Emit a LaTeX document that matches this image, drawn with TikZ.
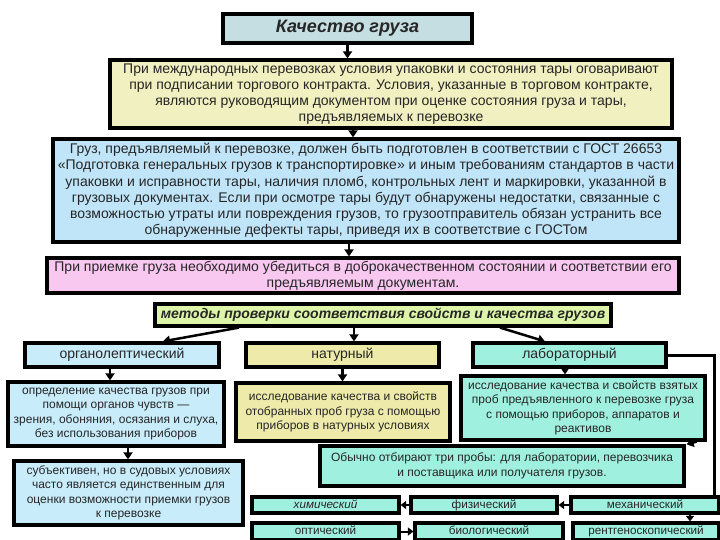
\documentclass[tikz,border=0pt]{standalone}
\usepackage{fontspec}
\setmainfont{Liberation Sans}
\usetikzlibrary{arrows.meta}
\definecolor{ctitle}{HTML}{C5DEE2}
\definecolor{cyel}{HTML}{F0F0C0}
\definecolor{cblue}{HTML}{C0E4F8}
\definecolor{cpink}{HTML}{F8C8F0}
\definecolor{cmeth}{HTML}{DDF5A8}
\definecolor{corg}{HTML}{C8ECFA}
\definecolor{cnat}{HTML}{EEEBAA}
\definecolor{clab}{HTML}{A0F0E0}
\tikzset{
  box/.style={draw=black, line width=3.2pt, align=center, inner sep=0pt, text=black!85},
  big/.style={font=\fontsize{14}{16.2}\selectfont},
  mid/.style={font=\fontsize{12}{14.5}\selectfont},
  small/.style={font=\fontsize{11.7}{13}\selectfont, text height=8.5pt, text depth=2pt},
  arr/.style={line width=2.5pt, -{Triangle[length=7pt,width=9pt]}},
  sarr/.style={line width=2pt, -{Triangle[length=5.5pt,width=8pt]}},
  lnk/.style={line width=3pt}
}
\begin{document}
\begin{tikzpicture}[x=1pt,y=-1pt]
\useasboundingbox (0,0) rectangle (720,540);
\fill[white] (0,0) rectangle (720,540);
\node[box, fill=ctitle, minimum width=249pt, minimum height=29pt, font=\fontsize{18}{20}\selectfont\bfseries\itshape] (title) at (347.5,28.5) {Качество груза};
\node[box, big, fill=cyel, minimum width=562pt, minimum height=68pt] (yel) at (391,94) {При международных перевозках условия упаковки и состояния тары оговаривают\\при подписании торгового контракта. Условия, указанные в торговом контракте,\\являются руководящим документом при оценке состояния груза и тары,\\предъявляемых к перевозке};
\node[box, big, fill=cblue, minimum width=626pt, minimum height=103pt] (blue) at (366,190.5) {Груз, предъявляемый к перевозке, должен быть подготовлен в соответствии с ГОСТ 26653\\«Подготовка генеральных грузов к транспортировке» и иным требованиям стандартов в части\\упаковки и исправности тары, наличия пломб, контрольных лент и маркировки, указанной в\\грузовых документах. Если при осмотре тары будут обнаружены недостатки, связанные с\\возможностью утраты или повреждения грузов, то грузоотправитель обязан устранить все\\обнаруженные дефекты тары, приведя их в соответствие с ГОСТом};
\node[box, big, fill=cpink, minimum width=632pt, minimum height=35pt] (pink) at (363,275.5) {При приемке груза необходимо убедиться в доброкачественном состоянии и соответствии его\\предъявляемым документам.};
\node[box, fill=cmeth, minimum width=456pt, minimum height=22pt, font=\fontsize{14}{16}\selectfont\bfseries\itshape] (meth) at (383,315) {методы проверки соответствия свойств и качества грузов};
\node[box, big, fill=corg, minimum width=194pt, minimum height=24pt] (org) at (122,355) {органолептический};
\node[box, big, fill=cnat, minimum width=193pt, minimum height=24pt] (nat) at (342.5,355) {натурный};
\node[box, big, fill=clab, minimum width=193pt, minimum height=24pt] (lab) at (569.5,355) {лабораторный};
\node[box, mid, fill=corg, minimum width=216pt, minimum height=64pt] (orgd) at (116,414) {определение качества грузов при\\помощи органов чувств —\\зрения, обоняния, осязания и слуха,\\без использования приборов};
\node[box, mid, fill=corg, minimum width=229pt, minimum height=64pt] (subj) at (128.5,493) {субъективен, но в судовых условиях\\часто является единственным для\\оценки возможности приемки грузов\\к перевозке};
\node[box, mid, fill=cnat, minimum width=214pt, minimum height=58pt] (natd) at (343,412) {исследование качества и свойств\\отобранных проб груза с помощью\\приборов в натурных условиях};
\node[box, mid, fill=clab, minimum width=244pt, minimum height=64pt] (labd) at (583,408) {исследование качества и свойств взятых\\проб предъявленного к перевозке груза\\с помощью приборов, аппаратов и\\реактивов};
\node[box, mid, fill=clab, minimum width=364pt, minimum height=40pt] (ob) at (502,466) {Обычно отбирают три пробы: для лаборатории, перевозчика\\и поставщика или получателя грузов.};
\node[box, small, fill=clab, minimum width=147pt, minimum height=16pt] (chem) at (325.5,505) {\itshape химический};
\node[box, small, fill=clab, minimum width=146pt, minimum height=16pt] (phys) at (484,505) {физический};
\node[box, small, fill=clab, minimum width=148pt, minimum height=16pt] (mech) at (645,505) {механический};
\node[box, small, fill=clab, minimum width=147pt, minimum height=17pt] (opt) at (325.5,531.5) {оптический};
\node[box, small, fill=clab, minimum width=148pt, minimum height=17pt] (bio) at (489,531.5) {биологический};
\node[box, small, fill=clab, minimum width=146pt, minimum height=17pt] (xray) at (646,531.5) {рентгеноскопический};
% connectors
\draw[arr] (title.south) -- (title.south |- yel.north);
\draw[arr] ([xshift=-38pt]yel.south) -- ([xshift=-38pt]yel.south |- blue.north);
\draw[arr] ([xshift=-17pt]blue.south) -- ([xshift=-17pt]blue.south |- pink.north);
\draw[arr] ([xshift=-144pt]meth.south) -- ([xshift=41pt]org.north);
\draw[arr] ([xshift=-29pt]meth.south) -- ([xshift=-29pt]meth.south |- nat.north);
\draw[arr] ([xshift=117pt]meth.south) -- ([xshift=-24.5pt]lab.north);
\draw[arr] ([xshift=-12pt]org.south) -- ([xshift=-12pt]org.south |- orgd.north);
\draw[arr] ([xshift=12pt]orgd.south) -- ([xshift=12pt]orgd.south |- subj.north);
\draw[arr] (nat.south) -- (nat.south |- natd.north);
\draw[arr] ([xshift=-4.5pt]lab.south) -- ([xshift=-4.5pt]lab.south |- labd.north);
\draw[arr] ([xshift=-10pt]labd.south east) -- ([xshift=1pt]ob.north east);
\coordinate (c1) at ([xshift=47pt]lab.east);
\draw[lnk] (lab.east) -- (c1) -- (c1 |- mech.north);
\draw[sarr] (phys.west) -- (chem.east);
\draw[sarr] (mech.west) -- (phys.east);
\draw[sarr] (opt.east) -- (bio.west);
\draw[sarr] ([xshift=45pt]mech.south) -- ([xshift=45pt]mech.south |- xray.north);
\end{tikzpicture}
\end{document}
